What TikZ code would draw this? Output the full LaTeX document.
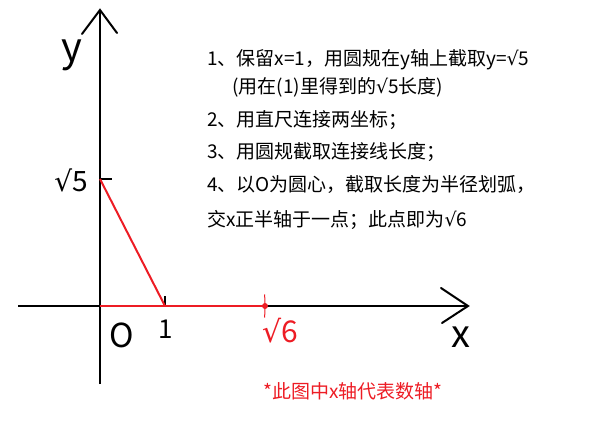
\documentclass[tikz,border=0pt]{standalone}
\usepackage{fontspec}
\setmainfont{Noto Sans CJK SC}
\newfontfamily\symf{DejaVu Sans}
\newcommand{\rt}{{\symf √}}
\definecolor{pred}{RGB}{237,28,36}
\begin{document}
\begin{tikzpicture}[x=1pt,y=-1pt,
  axis/.style={draw=black,line width=2pt},
  redline/.style={draw=pred,line width=2pt},
  step text/.style={anchor=base west,inner sep=0pt,font=\fontsize{19}{22}\selectfont},
  biglab/.style={anchor=base,inner sep=0pt}]
\useasboundingbox (0,0) rectangle (600,441);
% coordinates
\coordinate (O) at (100,306);
\coordinate (ybot) at (100,384);
\coordinate (ytop) at (100,10);
\coordinate (yl) at (82,34);
\coordinate (yr) at (117,33);
\coordinate (xleft) at (18,306);
\coordinate (xtip) at (468,306);
\coordinate (xu) at (441,288);
\coordinate (xd) at (442,323);
\coordinate (A) at (100,179);
\coordinate (Atick) at (112,179);
\coordinate (B) at (165,306);
\coordinate (Btick) at (165,296);
\coordinate (C) at (265,306);
% axes
\draw[axis] (ybot) -- (ytop);
\draw[axis,line cap=round] (yl) -- (ytop) -- (yr);
\draw[axis] (xleft) -- (xtip);
\draw[axis,line cap=round] (xu) -- (xtip) -- (xd);
% ticks
\draw[axis,line width=1.6pt] (A) -- (Atick);
\draw[axis,line width=1.4pt] (B) -- (Btick);
% red constructions
\draw[redline] (A) -- (B);
\draw[redline] (O) -- (C);
\draw[draw=pred,line width=1pt] (O) ++(-4:165) arc[start angle=-4,end angle=4,radius=165];
\fill[pred] (C) circle[radius=3];
% labels
\node[biglab,font=\fontsize{40}{44}\selectfont] (ylab) at (72,62) {y};
\node[biglab,font=\fontsize{38}{42}\selectfont] (xlab) at (461,347) {x};
\node[anchor=base east,inner sep=0pt,font=\fontsize{28}{32}\selectfont] (s5) at (88,192) {\rt5};
\node[biglab,font=\fontsize{33}{36}\selectfont] (olab) at (122,347) {O};
\node[biglab,font=\fontsize{26}{30}\selectfont] (onelab) at (166,338) {1};
\node[anchor=base west,inner sep=0pt,font=\fontsize{30}{33}\selectfont,text=pred] (s6) at (262,342) {\rt6};
% steps
\node[step text] (l1) at (207,66) {1、保留x=1，用圆规在y轴上截取y=\rt5};
\node[step text] (l1b) at (232,94) {(用在(1)里得到的\rt5长度)};
\node[step text] (l2) at (207,127) {2、用直尺连接两坐标；};
\node[step text] (l3) at (207,159) {3、用圆规截取连接线长度；};
\node[step text] (l4) at (207,192) {4、以O为圆心，截取长度为半径划弧，};
\node[step text] (l5) at (207,226) {交x正半轴于一点；此点即为\rt6};
\node[biglab,font=\fontsize{19}{22}\selectfont,text=pred] (note) at (353,398) {*此图中x轴代表数轴*};
\end{tikzpicture}
\end{document}
